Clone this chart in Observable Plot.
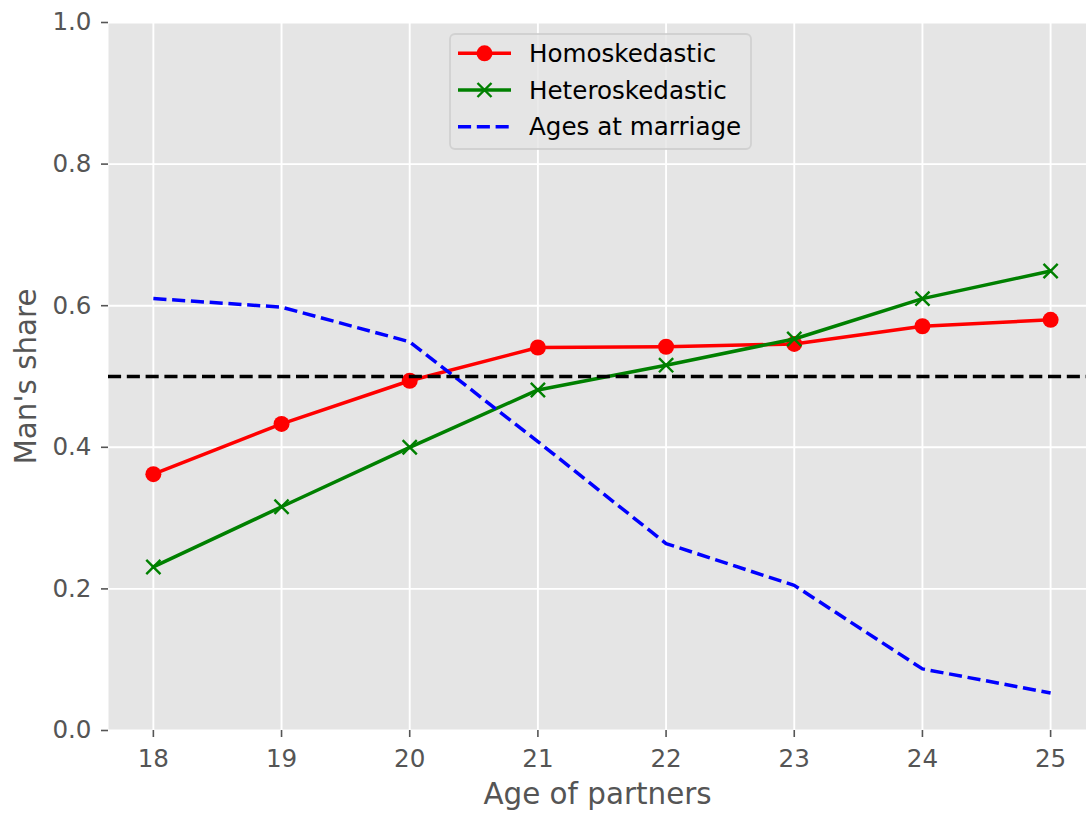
<!DOCTYPE html>
<html>
<head>
<meta charset="utf-8">
<script src="https://cdn.jsdelivr.net/npm/d3@7"></script>
<script src="https://cdn.jsdelivr.net/npm/@observablehq/plot@0.6"></script>
<style>
  html, body { margin: 0; padding: 0; background: #fff; }
  #chart { width: 1086px; height: 814px; overflow: hidden; }
  svg { font-family: "DejaVu Sans", sans-serif; }
</style>
</head>
<body>
<div id="chart"></div>
<script>
// ---- data ----
const ages = [18, 19, 20, 21, 22, 23, 24, 25];
const homoskedastic = [0.362, 0.433, 0.494, 0.541, 0.542, 0.546, 0.571, 0.580];
const heteroskedastic = [0.231, 0.316, 0.400, 0.481, 0.516, 0.553, 0.610, 0.649];
const agesAtMarriage = [0.610, 0.598, 0.549, 0.408, 0.264, 0.205, 0.087, 0.053];
const referenceShare = [0.5];
const xTicks = [18, 19, 20, 21, 22, 23, 24, 25];
const yTicks = [0.0, 0.2, 0.4, 0.6, 0.8, 1.0];
const seriesNames = ["Homoskedastic", "Heteroskedastic", "Ages at marriage"];
const seriesColors = ["#ff0000", "#008000", "#0000ff"];
const xLabel = "Age of partners";
const yLabel = "Man's share";

const homoData = ages.map((a, i) => ({age: a, v: homoskedastic[i]}));
const heteroData = ages.map((a, i) => ({age: a, v: heteroskedastic[i]}));
const marriageData = ages.map((a, i) => ({age: a, v: agesAtMarriage[i]}));

const dash = "13.1,5.7";
const lw = 3.5;
const tickFont = 24.6;
const labelFont = 29.4;

const plot = Plot.plot({
  width: 1086,
  height: 814,
  marginTop: 22,
  marginBottom: 84,
  marginLeft: 108,
  marginRight: 0,
  style: {fontFamily: "DejaVu Sans, sans-serif", background: "#fff"},
  x: {domain: [17.65, 25.28]},
  y: {domain: [0, 1]},
  marks: [
    Plot.frame({fill: "#e5e5e5", stroke: null}),
    Plot.gridX(xTicks, {stroke: "#ffffff", strokeOpacity: 1, strokeWidth: 1.9}),
    Plot.gridY(yTicks, {stroke: "#ffffff", strokeOpacity: 1, strokeWidth: 1.9}),
    Plot.axisX(xTicks, {tickSize: 7, tickPadding: 12, fontSize: tickFont, color: "#555555", stroke: "#555555", strokeWidth: 1.6, label: null, tickFormat: d => String(d)}),
    Plot.axisY(yTicks, {tickSize: 7, tickPadding: 10, fontSize: tickFont, color: "#555555", stroke: "#555555", strokeWidth: 1.6, label: null, tickFormat: d3.format(".1f")}),
    Plot.line(homoData, {x: "age", y: "v", stroke: seriesColors[0], strokeWidth: lw}),
    Plot.dot(homoData, {x: "age", y: "v", r: 8, fill: seriesColors[0], stroke: null}),
    Plot.line(heteroData, {x: "age", y: "v", stroke: seriesColors[1], strokeWidth: lw}),
    Plot.dot(heteroData, {x: "age", y: "v", r: 6.5, symbol: "times", stroke: seriesColors[1], strokeWidth: 2.4}),
    Plot.line(marriageData, {x: "age", y: "v", stroke: seriesColors[2], strokeWidth: lw, strokeDasharray: dash, strokeLinecap: "butt"}),
    Plot.ruleY(referenceShare, {stroke: "#000000", strokeWidth: lw, strokeDasharray: dash}),
    Plot.text([xLabel], {frameAnchor: "bottom", dy: 73, text: d => d, fontSize: labelFont, fill: "#555555", lineAnchor: "bottom", textAnchor: "middle"}),
    Plot.text([yLabel], {frameAnchor: "left", dx: -73, rotate: -90, text: d => d, fontSize: labelFont, fill: "#555555", lineAnchor: "bottom", textAnchor: "middle"})
  ]
});

document.getElementById("chart").appendChild(plot);

// ---- legend (drawn into the same svg) ----
const svg = d3.select(plot);
const lg = svg.append("g").attr("class", "legend").attr("text-anchor", "start");
lg.append("rect")
  .attr("x", 450).attr("y", 34).attr("width", 301).attr("height", 115)
  .attr("rx", 5).attr("ry", 5)
  .attr("fill", "#e5e5e5").attr("fill-opacity", 0.8)
  .attr("stroke", "#cccccc").attr("stroke-opacity", 0.8).attr("stroke-width", 1.8);
const rowY = [53.3, 90, 126.7];
seriesNames.forEach((name, i) => {
  const y = rowY[i];
  const line = lg.append("line")
    .attr("x1", 458).attr("x2", 511).attr("y1", y).attr("y2", y)
    .attr("stroke", seriesColors[i]).attr("stroke-width", lw);
  if (i === 2) line.attr("stroke-dasharray", dash);
  if (i === 0) {
    lg.append("circle").attr("cx", 484.5).attr("cy", y).attr("r", 8).attr("fill", seriesColors[0]);
  } else if (i === 1) {
    const s = 7;
    lg.append("path")
      .attr("d", `M${484.5 - s},${y - s}L${484.5 + s},${y + s}M${484.5 - s},${y + s}L${484.5 + s},${y - s}`)
      .attr("stroke", seriesColors[1]).attr("stroke-width", 2.4).attr("fill", "none");
  }
  lg.append("text")
    .attr("x", 529).attr("y", y).attr("dy", "0.35em")
    .attr("text-anchor", "start")
    .attr("font-size", tickFont).attr("fill", "#000")
    .attr("font-family", "DejaVu Sans, sans-serif")
    .text(name);
});
</script>
</body>
</html>
